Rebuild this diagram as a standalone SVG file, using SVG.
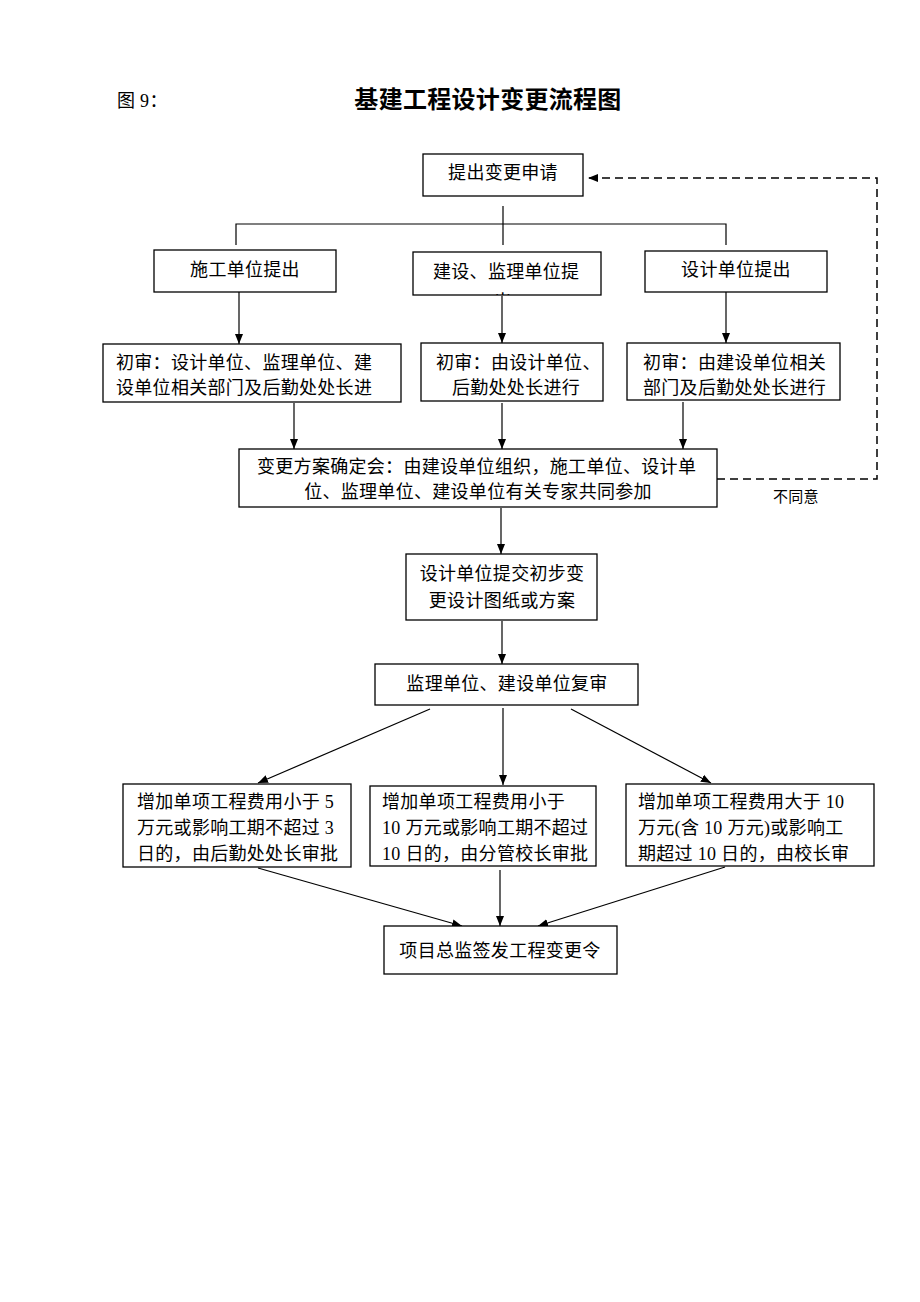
<svg xmlns="http://www.w3.org/2000/svg" width="920" height="1302" viewBox="0 0 920 1302">
<style>
.box{fill:#fff;stroke:#000;stroke-width:1.3}
.t{font-family:"Liberation Serif","Noto Sans CJK SC",serif;font-size:18px;fill:#000;letter-spacing:0.3px}
.c{text-anchor:middle}
.ln{stroke:#000;stroke-width:1.2;fill:none}
.ar{stroke:#000;stroke-width:1.2;fill:none;marker-end:url(#ah)}
.dash{stroke:#000;stroke-width:1.5;fill:none;stroke-dasharray:8 5;marker-end:url(#ah)}
</style>
<defs>
<marker id="ah" viewBox="0 0 10 10" refX="10" refY="5" markerWidth="10" markerHeight="10" markerUnits="userSpaceOnUse" orient="auto">
<path d="M0,1 L10,5 L0,9 z" fill="#000"/>
</marker>
<clipPath id="clipB"><rect x="413" y="252" width="188" height="43"/></clipPath>
</defs>
<rect width="920" height="1302" fill="#fff"/>
<g id="title">
<text x="117" y="107" class="t">图 9：</text>
<text x="488" y="108" class="t c" style="font-size:24px;font-weight:bold">基建工程设计变更流程图</text>
</g>
<g id="connectors">
<polyline class="ln" points="503,206 503,245"/>
<polyline class="ln" points="236,245 236,224 726,224 726,245"/>
<line class="ar" x1="239" y1="292" x2="239" y2="344"/>
<line class="ar" x1="502" y1="296" x2="502" y2="343"/>
<line class="ar" x1="726" y1="292" x2="726" y2="343"/>
<line class="ar" x1="294" y1="403" x2="294" y2="449"/>
<line class="ar" x1="502" y1="403" x2="502" y2="449"/>
<line class="ar" x1="683" y1="402" x2="683" y2="449"/>
<polyline class="dash" points="717,479 877,479 877,178 588,178"/>
<line class="ar" x1="501" y1="508" x2="501" y2="554"/>
<line class="ar" x1="502" y1="621" x2="502" y2="664"/>
<line class="ar" x1="430" y1="709" x2="258" y2="783"/>
<line class="ar" x1="503" y1="708" x2="503" y2="785"/>
<line class="ar" x1="571" y1="709" x2="711" y2="783"/>
<line class="ar" x1="258" y1="868" x2="462" y2="926"/>
<line class="ar" x1="500" y1="870" x2="500" y2="926"/>
<line class="ar" x1="725" y1="867" x2="538" y2="926"/>
<text x="773" y="502" class="t" style="font-size:15px">不同意</text>
</g>
<g id="n1"><rect class="box" x="423" y="154" width="160" height="42"/><text x="503" y="179" class="t c">提出变更申请</text></g>
<g id="n2"><rect class="box" x="154" y="250" width="182" height="42"/><text x="245" y="276" class="t c">施工单位提出</text></g>
<g id="n3"><rect class="box" x="413" y="252" width="188" height="43"/><text x="433" y="278" class="t">建设、监理单位提</text><text x="503" y="308" class="t c" clip-path="url(#clipB)">出</text></g>
<g id="n4"><rect class="box" x="645" y="251" width="182" height="41"/><text x="736" y="276" class="t c">设计单位提出</text></g>
<g id="n5"><rect class="box" x="103" y="344" width="298" height="58"/><text x="116" y="369" class="t">初审：设计单位、监理单位、建</text><text x="116" y="394" class="t">设单位相关部门及后勤处处长进</text></g>
<g id="n6"><rect class="box" x="421" y="343" width="182" height="58"/><text x="436" y="369" class="t">初审：由设计单位、</text><text x="516" y="394" class="t c">后勤处处长进行</text></g>
<g id="n7"><rect class="box" x="627" y="343" width="213" height="57"/><text x="643" y="369" class="t">初审：由建设单位相关</text><text x="643" y="394" class="t">部门及后勤处处长进行</text></g>
<g id="n8"><rect class="box" x="239" y="449" width="478" height="58"/><text x="257" y="473" class="t">变更方案确定会：由建设单位组织，施工单位、设计单</text><text x="478" y="498" class="t c">位、监理单位、建设单位有关专家共同参加</text></g>
<g id="n9"><rect class="box" x="406" y="554" width="191" height="66"/><text x="502" y="580" class="t c">设计单位提交初步变</text><text x="502" y="607" class="t c">更设计图纸或方案</text></g>
<g id="n10"><rect class="box" x="375" y="664" width="263" height="41"/><text x="507" y="690" class="t c">监理单位、建设单位复审</text></g>
<g id="n11"><rect class="box" x="123" y="784" width="228" height="83"/><text x="137" y="808" class="t">增加单项工程费用小于 5</text><text x="137" y="834" class="t">万元或影响工期不超过 3</text><text x="137" y="860" class="t">日的，由后勤处处长审批</text></g>
<g id="n12"><rect class="box" x="370" y="786" width="226" height="80"/><text x="382" y="808" class="t">增加单项工程费用小于</text><text x="382" y="834" class="t">10 万元或影响工期不超过</text><text x="382" y="860" class="t">10 日的，由分管校长审批</text></g>
<g id="n13"><rect class="box" x="626" y="784" width="248" height="82"/><text x="638" y="808" class="t">增加单项工程费用大于 10</text><text x="638" y="834" class="t">万元(含 10 万元)或影响工</text><text x="638" y="860" class="t">期超过 10 日的，由校长审</text></g>
<g id="n14"><rect class="box" x="384" y="926" width="233" height="48"/><text x="500" y="957" class="t c">项目总监签发工程变更令</text></g>
</svg>
